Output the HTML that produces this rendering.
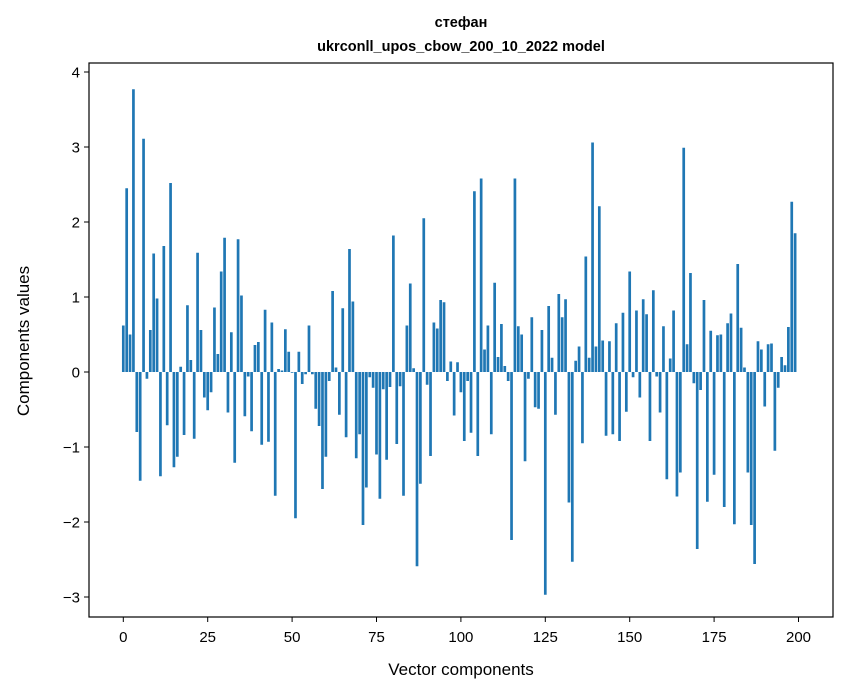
<!DOCTYPE html>
<html><head><meta charset="utf-8"><style>
body{margin:0;background:#fff;}
svg{display:block;font-family:"Liberation Sans","DejaVu Sans",sans-serif;}
</style></head><body>
<svg id="chart" width="847" height="696">
<text x="461" y="27" text-anchor="middle" font-size="14.5" font-weight="bold">стефан</text>
<text x="461" y="51" text-anchor="middle" font-size="14.5" font-weight="bold">ukrconll_upos_cbow_200_10_2022 model</text>
<g id="bars"></g>
<g id="xticks"></g>
<g id="yticks"></g>
<rect x="89" y="63" width="744" height="554" fill="none" stroke="#000" stroke-width="1.2"/>
<text x="461" y="675" text-anchor="middle" font-size="17">Vector components</text>
<text transform="translate(29,341) rotate(-90)" text-anchor="middle" font-size="17">Components values</text>
</svg>
<script>
const values = [0.62,2.45,0.50,3.77,-0.80,-1.45,3.11,-0.09,0.56,1.58,0.98,-1.39,1.68,-0.71,2.52,-1.27,-1.13,0.07,-0.84,0.89,0.16,-0.89,1.59,0.56,-0.34,
-0.51,-0.27,0.86,0.24,1.34,1.79,-0.54,0.53,-1.21,1.77,1.02,-0.59,-0.06,-0.79,0.36,0.40,-0.97,0.83,-0.93,0.66,-1.65,0.04,0.02,0.57,0.27,
-0.01,-1.95,0.27,-0.16,-0.03,0.62,-0.03,-0.49,-0.72,-1.56,-1.13,-0.12,1.08,0.06,-0.57,0.85,-0.87,1.64,0.94,-1.15,-0.83,-2.04,-1.54,-0.07,-0.21,
-1.10,-1.69,-0.23,-1.17,-0.20,1.82,-0.96,-0.19,-1.65,0.62,1.18,0.05,-2.59,-1.49,2.05,-0.17,-1.12,0.66,0.58,0.96,0.93,-0.12,0.14,-0.58,0.13,
-0.27,-0.92,-0.12,-0.81,2.41,-1.12,2.58,0.30,0.62,-0.83,1.19,0.20,0.64,0.08,-0.12,-2.24,2.58,0.61,0.50,-1.19,-0.09,0.73,-0.47,-0.49,0.56,
-2.97,0.88,0.19,-0.57,1.04,0.73,0.97,-1.74,-2.53,0.15,0.34,-0.95,1.54,0.19,3.06,0.34,2.21,0.42,-0.85,0.41,-0.83,0.65,-0.92,0.79,-0.53,
1.34,-0.07,0.82,-0.34,0.97,0.77,-0.92,1.09,-0.06,-0.54,0.61,-1.43,0.18,0.82,-1.66,-1.34,2.99,0.37,1.32,-0.15,-2.36,-0.24,0.96,-1.73,0.55,
-1.37,0.49,0.50,-1.80,0.65,0.78,-2.03,1.44,0.59,0.06,-1.34,-2.04,-2.56,0.41,0.30,-0.46,0.37,0.38,-1.05,-0.21,0.20,0.09,0.60,2.27,1.85];
const xTickLabels = [0,25,50,75,100,125,150,175,200];
const yTickLabels = [-3,-2,-1,0,1,2,3,4];
const NS='http://www.w3.org/2000/svg';
function xs(i){return 123.3+3.376*i;}
function ys(v){return 372-75*v;}
const bars=document.getElementById('bars');
values.forEach(function(v,i){
  const r=document.createElementNS(NS,'rect');
  const w=0.8*3.376;
  r.setAttribute('x',xs(i)-w/2);
  r.setAttribute('width',w);
  r.setAttribute('y',Math.min(ys(v),ys(0)));
  r.setAttribute('height',Math.abs(ys(v)-ys(0)));
  r.setAttribute('fill','#1f77b4');
  
  
  bars.appendChild(r);
});
const xt=document.getElementById('xticks');
xTickLabels.forEach(function(t){
  const l=document.createElementNS(NS,'line');
  l.setAttribute('x1',xs(t));l.setAttribute('x2',xs(t));l.setAttribute('y1',617);l.setAttribute('y2',622);
  l.setAttribute('stroke','#000');
  
  
  xt.appendChild(l);
  const tx=document.createElementNS(NS,'text');
  tx.setAttribute('x',xs(t));tx.setAttribute('y',642);tx.setAttribute('text-anchor','middle');tx.setAttribute('font-size','15');
  tx.textContent=String(t);
  
  
  xt.appendChild(tx);
});
const yt=document.getElementById('yticks');
yTickLabels.forEach(function(t){
  const l=document.createElementNS(NS,'line');
  l.setAttribute('x1',84);l.setAttribute('x2',89);l.setAttribute('y1',ys(t));l.setAttribute('y2',ys(t));
  l.setAttribute('stroke','#000');
  
  
  yt.appendChild(l);
  const tx=document.createElementNS(NS,'text');
  tx.setAttribute('x',80);tx.setAttribute('y',ys(t)+5.5);tx.setAttribute('text-anchor','end');tx.setAttribute('font-size','15');
  tx.textContent=t<0?'\u2212'+Math.abs(t):String(t);
  
  
  yt.appendChild(tx);
});
</script>
</body></html>
